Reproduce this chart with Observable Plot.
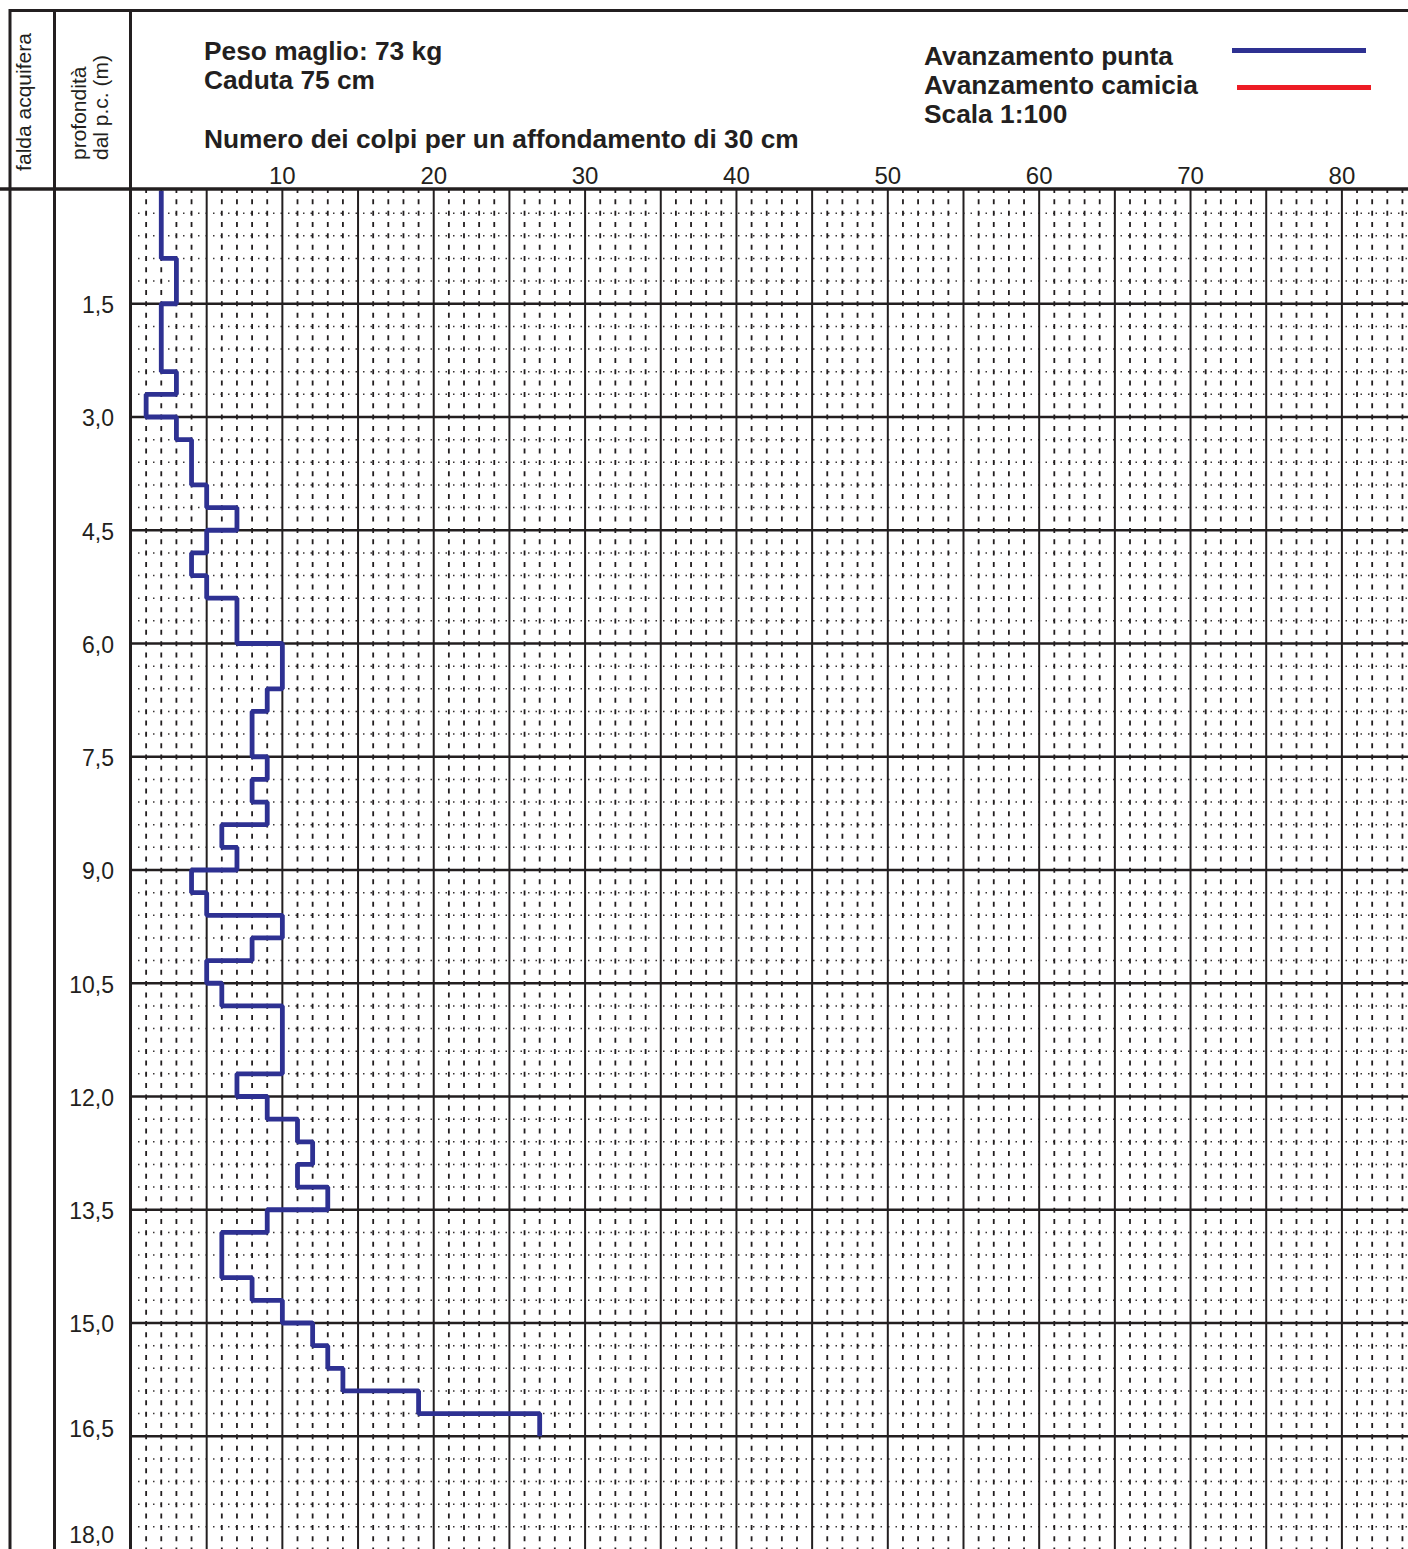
<!DOCTYPE html>
<html>
<head>
<meta charset="utf-8">
<script src="https://cdn.jsdelivr.net/npm/d3@7"></script>
<script src="https://cdn.jsdelivr.net/npm/@observablehq/plot@0.6"></script>
<style>
  html, body { margin: 0; padding: 0; background: #fff; overflow: hidden; }
  svg { display: block; }
</style>
</head>
<body>
<div id="chart"></div>
<script>
// ---- data ----
// blows per 30 cm (N30), one value per 0.30 m interval from 0.00 m to 16.50 m
const stepSize = 0.3;
const blowsPunta = [
  2, 2, 2, 3, 3,      // 0.0 - 1.5
  2, 2, 2, 3, 1,      // 1.5 - 3.0
  3, 4, 4, 5, 7,      // 3.0 - 4.5
  5, 4, 5, 7, 7,      // 4.5 - 6.0
  10, 10, 9, 8, 8,    // 6.0 - 7.5
  9, 8, 9, 6, 7,      // 7.5 - 9.0
  4, 5, 10, 8, 5,     // 9.0 - 10.5
  6, 10, 10, 10, 7,   // 10.5 - 12.0
  9, 11, 12, 11, 13,  // 12.0 - 13.5
  9, 6, 6, 8, 10,     // 13.5 - 15.0
  12, 13, 14, 19, 27  // 15.0 - 16.5
];
const xTickLabels = [10, 20, 30, 40, 50, 60, 70, 80];
const depthTickLabels = [1.5, 3.0, 4.5, 6.0, 7.5, 9.0, 10.5, 12.0, 13.5, 15.0, 16.5, 18.0];
const headerLeft = ["Peso maglio: 73 kg", "Caduta 75 cm"];
const axisTitle = "Numero dei colpi per un affondamento di 30 cm";
const legendLabels = ["Avanzamento punta", "Avanzamento camicia", "Scala 1:100"];
const colTitles = ["falda acquifera", "profondità", "dal p.c. (m)"];

// ---- derived ----
const xMax = 84.4, depthMax = 18;
const majorCols = d3.range(5, 85, 5);
const minorCols = d3.range(1, 85).filter(d => d % 5 !== 0);
const rows = d3.range(1, 60).map(i => +(i * stepSize).toFixed(2));
const majorRows = rows.filter((d, i) => (i + 1) % 5 === 0);
const minorRows = rows.filter((d, i) => (i + 1) % 5 !== 0);
const stepPts = blowsPunta.flatMap((v, i) => [
  {n: v, z: +(i * stepSize).toFixed(2)},
  {n: v, z: +((i + 1) * stepSize).toFixed(2)}
]);

const INK = "#231f20";
const BLUE = "#2e3192";
const RED = "#ed1c24";
const FONT = "'Liberation Sans', Arial, Helvetica, sans-serif";
const fmt = d => d.toFixed(1).replace(".", ",");

const W = 1408, H = 1549, ML = 130.5, MT = 190;

const chart = Plot.plot({
  width: W,
  height: H,
  marginLeft: ML,
  marginRight: 0,
  marginTop: MT,
  marginBottom: 0,
  style: {fontFamily: FONT, fontSize: "22px", color: INK, background: "#fff"},
  x: {domain: [0, xMax], axis: null},
  y: {domain: [0, depthMax], reverse: true, axis: null},
  marks: [
    Plot.ruleY(minorRows, {stroke: INK, strokeWidth: 1.5, strokeDasharray: "1.5,6", strokeOpacity: 0.9}),
    Plot.ruleX(minorCols, {stroke: INK, strokeWidth: 1.8, strokeDasharray: "5,6.33", strokeDashoffset: 2}),
    Plot.ruleX(majorCols, {stroke: INK, strokeWidth: 2}),
    Plot.ruleY(majorRows, {stroke: INK, strokeWidth: 2.6}),
    Plot.line(stepPts, {x: "n", y: "z", stroke: BLUE, strokeWidth: 4.8, strokeLinejoin: "miter", strokeLinecap: "butt"}),
    Plot.axisX(xTickLabels, {anchor: "top", tickSize: 0, tickPadding: 7, fontSize: 24, fill: INK, label: null}),
    Plot.axisY(depthTickLabels.slice(0, -2), {anchor: "left", tickSize: 0, tickPadding: 17, dy: 2, fontSize: 23, fill: INK, tickFormat: fmt, label: null}),
    Plot.axisY(depthTickLabels.slice(-2, -1), {anchor: "left", tickSize: 0, tickPadding: 17, dy: -7, fontSize: 23, fill: INK, tickFormat: fmt, label: null}),
    Plot.axisY(depthTickLabels.slice(-1), {anchor: "left", tickSize: 0, tickPadding: 17, dy: -14, fontSize: 23, fill: INK, tickFormat: fmt, label: null})
  ]
});

document.getElementById("chart").appendChild(chart);

// ---- frame, header and legend ----
const svg = d3.select(chart);
const g = svg.append("g");
const line = (x1, y1, x2, y2, w, c = INK) =>
  g.append("line").attr("x1", x1).attr("y1", y1).attr("x2", x2).attr("y2", y2)
    .attr("stroke", c).attr("stroke-width", w);

line(10, 10.5, W, 10.5, 3);          // top border
line(0, 189, W, 189, 3.5);           // header bottom
line(10, 9, 10, H, 3);               // left border
line(54.5, 9, 54.5, H, 3);           // column separator
line(130.5, 9, 130.5, H, 3);         // plot left

const text = (s, x, y, opts = {}) =>
  g.append("text").attr("x", x).attr("y", y)
    .attr("font-family", FONT).attr("font-size", opts.size || 26)
    .attr("font-weight", opts.weight || "bold").attr("fill", INK)
    .attr("text-anchor", opts.anchor || "start")
    .attr("transform", opts.transform || null)
    .text(s);

text(headerLeft[0], 204, 60, {size: 26.3});
text(headerLeft[1], 204, 89, {size: 26.3});
text(axisTitle, 204, 148, {size: 26.3});
text(legendLabels[0], 924, 65, {size: 26.3});
text(legendLabels[1], 924, 93.5, {size: 26.3});
text(legendLabels[2], 924, 123, {size: 26.3});

line(1232, 50.5, 1366, 50.5, 5, BLUE);
line(1237, 87.5, 1371, 87.5, 5, RED);

// rotated column titles
text(colTitles[0], 0, 0, {size: 21, weight: "normal", anchor: "middle", transform: "translate(31,102) rotate(-90)"});
text(colTitles[1], 0, 0, {size: 21, weight: "normal", anchor: "start", transform: "translate(86,160) rotate(-90)"});
text(colTitles[2], 0, 0, {size: 21, weight: "normal", anchor: "start", transform: "translate(108,160) rotate(-90)"});
</script>
</body>
</html>
